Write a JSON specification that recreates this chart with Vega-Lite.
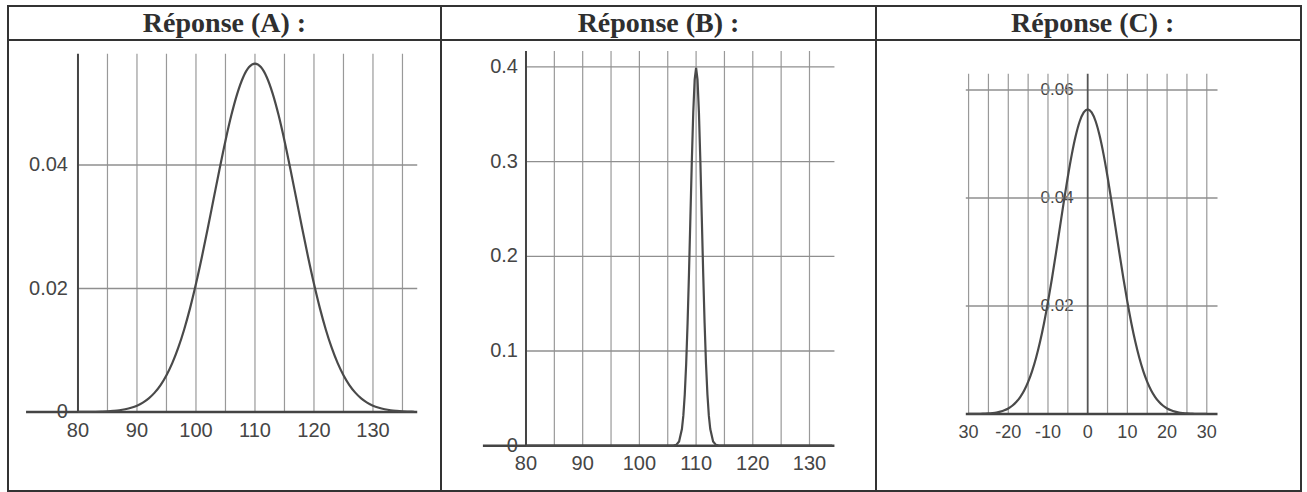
{
  "$schema": "https://vega.github.io/schema/vega-lite/v6.json",
  "padding": {"left": 7, "top": 5, "right": 7, "bottom": 2},
  "background": "white",
  "config": {
    "view": {"stroke": "#333333", "strokeWidth": 2},
    "concat": {"spacing": 0}
  },
  "datasets": {
    "titleA": [{"t": "Réponse (A) :"}],
    "titleB": [{"t": "Réponse (B) :"}],
    "titleC": [{"t": "Réponse (C) :"}],
    "one": [{}],
    "xlA": [{"v": 80}, {"v": 90}, {"v": 100}, {"v": 110}, {"v": 120}, {"v": 130}],
    "ylA": [{"h": 0}, {"h": 0.02}, {"h": 0.04}],
    "ylB": [{"h": 0}, {"h": 0.1}, {"h": 0.2}, {"h": 0.3}, {"h": 0.4}],
    "xlC": [{"v": -30, "t": "30"}, {"v": -20, "t": "-20"}, {"v": -10, "t": "-10"}, {"v": 0, "t": "0"}, {"v": 10, "t": "10"}, {"v": 20, "t": "20"}, {"v": 30, "t": "30"}],
    "ylC": [{"h": 0.02}, {"h": 0.04}, {"h": 0.06}],
    "vgA": [{"v": 85}, {"v": 90}, {"v": 95}, {"v": 100}, {"v": 105}, {"v": 110}, {"v": 115}, {"v": 120}, {"v": 125}, {"v": 130}, {"v": 135}],
    "hgA": [{"h": 0.02}, {"h": 0.04}],
    "vgB": [{"v": 85}, {"v": 90}, {"v": 95}, {"v": 100}, {"v": 105}, {"v": 110}, {"v": 115}, {"v": 120}, {"v": 125}, {"v": 130}],
    "hgB": [{"h": 0.1}, {"h": 0.2}, {"h": 0.3}, {"h": 0.4}],
    "vgC": [{"v": -30}, {"v": -25}, {"v": -20}, {"v": -15}, {"v": -10}, {"v": -5}, {"v": 5}, {"v": 10}, {"v": 15}, {"v": 20}, {"v": 25}, {"v": 30}],
    "hgC": [{"h": 0.02}, {"h": 0.04}, {"h": 0.06}],
    "curveA": [
      {"x": 80, "y": 0.00001}, {"x": 81, "y": 0.00001}, {"x": 82, "y": 0.00002}, {"x": 83, "y": 0.00004}, {"x": 84, "y": 0.00007},
      {"x": 85, "y": 0.00011}, {"x": 86, "y": 0.00018}, {"x": 87, "y": 0.00028}, {"x": 88, "y": 0.00045}, {"x": 89, "y": 0.00069},
      {"x": 90, "y": 0.00103}, {"x": 91, "y": 0.00153}, {"x": 92, "y": 0.00221}, {"x": 93, "y": 0.00314}, {"x": 94, "y": 0.00436},
      {"x": 95, "y": 0.00595}, {"x": 96, "y": 0.00795}, {"x": 97, "y": 0.01041}, {"x": 98, "y": 0.01337}, {"x": 99, "y": 0.01682},
      {"x": 100, "y": 0.02076}, {"x": 101, "y": 0.0251}, {"x": 102, "y": 0.02975}, {"x": 103, "y": 0.03456}, {"x": 104, "y": 0.03936},
      {"x": 105, "y": 0.04394}, {"x": 106, "y": 0.04808}, {"x": 107, "y": 0.05156}, {"x": 108, "y": 0.05421}, {"x": 109, "y": 0.05586},
      {"x": 110, "y": 0.05642},
      {"x": 111, "y": 0.05586}, {"x": 112, "y": 0.05421}, {"x": 113, "y": 0.05156}, {"x": 114, "y": 0.04808}, {"x": 115, "y": 0.04394},
      {"x": 116, "y": 0.03936}, {"x": 117, "y": 0.03456}, {"x": 118, "y": 0.02975}, {"x": 119, "y": 0.0251}, {"x": 120, "y": 0.02076},
      {"x": 121, "y": 0.01682}, {"x": 122, "y": 0.01337}, {"x": 123, "y": 0.01041}, {"x": 124, "y": 0.00795}, {"x": 125, "y": 0.00595},
      {"x": 126, "y": 0.00436}, {"x": 127, "y": 0.00314}, {"x": 128, "y": 0.00221}, {"x": 129, "y": 0.00153}, {"x": 130, "y": 0.00103},
      {"x": 131, "y": 0.00069}, {"x": 132, "y": 0.00045}, {"x": 133, "y": 0.00028}, {"x": 134, "y": 0.00018}, {"x": 135, "y": 0.00011},
      {"x": 136, "y": 0.00007}, {"x": 137, "y": 0.00004}
    ],
    "curveB": [
      {"x": 80, "y": 0}, {"x": 100, "y": 0}, {"x": 105, "y": 0}, {"x": 106, "y": 0.00013}, {"x": 106.5, "y": 0.00087},
      {"x": 107, "y": 0.00443}, {"x": 107.5, "y": 0.01753}, {"x": 107.75, "y": 0.03174}, {"x": 108, "y": 0.05399},
      {"x": 108.25, "y": 0.08628}, {"x": 108.5, "y": 0.12952}, {"x": 108.75, "y": 0.18265}, {"x": 109, "y": 0.24197},
      {"x": 109.25, "y": 0.30114}, {"x": 109.5, "y": 0.35207}, {"x": 109.75, "y": 0.38667}, {"x": 110, "y": 0.39894},
      {"x": 110.25, "y": 0.38667}, {"x": 110.5, "y": 0.35207}, {"x": 110.75, "y": 0.30114}, {"x": 111, "y": 0.24197},
      {"x": 111.25, "y": 0.18265}, {"x": 111.5, "y": 0.12952}, {"x": 111.75, "y": 0.08628}, {"x": 112, "y": 0.05399},
      {"x": 112.25, "y": 0.03174}, {"x": 112.5, "y": 0.01753}, {"x": 113, "y": 0.00443}, {"x": 113.5, "y": 0.00087},
      {"x": 114, "y": 0.00013}, {"x": 115, "y": 0}, {"x": 120, "y": 0}, {"x": 134, "y": 0}
    ],
    "curveC": [
      {"x": -30, "y": 0.00001}, {"x": -29, "y": 0.00001}, {"x": -28, "y": 0.00002}, {"x": -27, "y": 0.00004}, {"x": -26, "y": 0.00007},
      {"x": -25, "y": 0.00011}, {"x": -24, "y": 0.00018}, {"x": -23, "y": 0.00028}, {"x": -22, "y": 0.00045}, {"x": -21, "y": 0.00069},
      {"x": -20, "y": 0.00103}, {"x": -19, "y": 0.00153}, {"x": -18, "y": 0.00221}, {"x": -17, "y": 0.00314}, {"x": -16, "y": 0.00436},
      {"x": -15, "y": 0.00595}, {"x": -14, "y": 0.00795}, {"x": -13, "y": 0.01041}, {"x": -12, "y": 0.01337}, {"x": -11, "y": 0.01682},
      {"x": -10, "y": 0.02076}, {"x": -9, "y": 0.0251}, {"x": -8, "y": 0.02975}, {"x": -7, "y": 0.03456}, {"x": -6, "y": 0.03936},
      {"x": -5, "y": 0.04394}, {"x": -4, "y": 0.04808}, {"x": -3, "y": 0.05156}, {"x": -2, "y": 0.05421}, {"x": -1, "y": 0.05586},
      {"x": 0, "y": 0.05642},
      {"x": 1, "y": 0.05586}, {"x": 2, "y": 0.05421}, {"x": 3, "y": 0.05156}, {"x": 4, "y": 0.04808}, {"x": 5, "y": 0.04394},
      {"x": 6, "y": 0.03936}, {"x": 7, "y": 0.03456}, {"x": 8, "y": 0.02975}, {"x": 9, "y": 0.0251}, {"x": 10, "y": 0.02076},
      {"x": 11, "y": 0.01682}, {"x": 12, "y": 0.01337}, {"x": 13, "y": 0.01041}, {"x": 14, "y": 0.00795}, {"x": 15, "y": 0.00595},
      {"x": 16, "y": 0.00436}, {"x": 17, "y": 0.00314}, {"x": 18, "y": 0.00221}, {"x": 19, "y": 0.00153}, {"x": 20, "y": 0.00103},
      {"x": 21, "y": 0.00069}, {"x": 22, "y": 0.00045}, {"x": 23, "y": 0.00028}, {"x": 24, "y": 0.00018}, {"x": 25, "y": 0.00011},
      {"x": 26, "y": 0.00007}, {"x": 27, "y": 0.00004}, {"x": 28, "y": 0.00002}, {"x": 29, "y": 0.00001}, {"x": 30, "y": 0.00001}
    ]
  },
  "columns": 3,
  "spacing": 0,
  "bounds": "flush",
  "concat": [
    {"width": 433, "height": 34, "data": {"name": "titleA"},
     "mark": {"type": "text", "font": "Liberation Serif", "fontWeight": "bold", "fontSize": 28, "color": "#2f2f2f", "dy": 1},
     "encoding": {
       "x": {"datum": 0.5, "type": "quantitative", "scale": {"domain": [0, 1]}, "axis": null},
       "y": {"datum": 0.5, "type": "quantitative", "scale": {"domain": [0, 1]}, "axis": null},
       "text": {"field": "t"}}},
    {"width": 435, "height": 34, "data": {"name": "titleB"},
     "mark": {"type": "text", "font": "Liberation Serif", "fontWeight": "bold", "fontSize": 28, "color": "#2f2f2f", "dy": 1},
     "encoding": {
       "x": {"datum": 0.5, "type": "quantitative", "scale": {"domain": [0, 1]}, "axis": null},
       "y": {"datum": 0.5, "type": "quantitative", "scale": {"domain": [0, 1]}, "axis": null},
       "text": {"field": "t"}}},
    {"width": 425, "height": 34, "data": {"name": "titleC"},
     "mark": {"type": "text", "font": "Liberation Serif", "fontWeight": "bold", "fontSize": 28, "color": "#2f2f2f", "dy": 1},
     "encoding": {
       "x": {"datum": 0.51, "type": "quantitative", "scale": {"domain": [0, 1]}, "axis": null},
       "y": {"datum": 0.5, "type": "quantitative", "scale": {"domain": [0, 1]}, "axis": null},
       "text": {"field": "t"}}},
    {
      "width": 433, "height": 451,
      "layer": [
        {"data": {"name": "xlA"}, "mark": {"type": "text", "baseline": "top", "dy": 9, "fontSize": 20, "font": "Liberation Sans", "color": "#454545"},
         "encoding": {
           "x": {"field": "v", "type": "quantitative", "scale": {"domain": [68.14, 141.53], "nice": false, "zero": false}, "axis": null},
           "y": {"datum": 0, "type": "quantitative", "scale": {"domain": [-0.01279, 0.06024], "nice": false, "zero": false}, "axis": null},
           "text": {"field": "v", "type": "quantitative", "format": "d"}}},
        {"data": {"name": "ylA"}, "mark": {"type": "text", "align": "right", "dx": -10, "fontSize": 20, "font": "Liberation Sans", "color": "#454545"},
         "encoding": {
           "y": {"field": "h", "type": "quantitative", "scale": {"domain": [-0.01279, 0.06024], "nice": false, "zero": false}, "axis": null},
           "x": {"datum": 80, "type": "quantitative", "scale": {"domain": [68.14, 141.53], "nice": false, "zero": false}, "axis": null},
           "text": {"field": "h", "type": "quantitative", "format": "~g"}}},
        {"data": {"name": "vgA"}, "mark": {"type": "rule", "color": "#999999", "strokeWidth": 1.2},
         "encoding": {
           "x": {"field": "v", "type": "quantitative", "scale": {"domain": [68.14, 141.53], "nice": false, "zero": false}, "axis": null},
           "y": {"datum": 0, "type": "quantitative", "scale": {"domain": [-0.01279, 0.06024], "nice": false, "zero": false}, "axis": null},
           "y2": {"datum": 0.058}}},
        {"data": {"name": "hgA"}, "mark": {"type": "rule", "color": "#8f8f8f", "strokeWidth": 1.3},
         "encoding": {
           "y": {"field": "h", "type": "quantitative", "scale": {"domain": [-0.01279, 0.06024], "nice": false, "zero": false}, "axis": null},
           "x": {"datum": 80, "type": "quantitative", "scale": {"domain": [68.14, 141.53], "nice": false, "zero": false}, "axis": null},
           "x2": {"datum": 137.5}}},
        {"data": {"name": "one"}, "mark": {"type": "rule", "color": "#444444", "strokeWidth": 2},
         "encoding": {
           "x": {"datum": 80, "type": "quantitative", "scale": {"domain": [68.14, 141.53], "nice": false, "zero": false}, "axis": null},
           "y": {"datum": 0, "type": "quantitative", "scale": {"domain": [-0.01279, 0.06024], "nice": false, "zero": false}, "axis": null},
           "y2": {"datum": 0.058}}},
        {"data": {"name": "one"}, "mark": {"type": "rule", "color": "#444444", "strokeWidth": 2.5},
         "encoding": {
           "y": {"datum": 0, "type": "quantitative", "scale": {"domain": [-0.01279, 0.06024], "nice": false, "zero": false}, "axis": null},
           "x": {"datum": 71.2, "type": "quantitative", "scale": {"domain": [68.14, 141.53], "nice": false, "zero": false}, "axis": null},
           "x2": {"datum": 137.5}}},
        {"data": {"name": "curveA"}, "mark": {"type": "line", "color": "#4a4a4a", "strokeWidth": 2.2, "interpolate": "monotone"},
         "encoding": {
           "x": {"field": "x", "type": "quantitative", "scale": {"domain": [68.14, 141.53], "nice": false, "zero": false}, "axis": null},
           "y": {"field": "y", "type": "quantitative", "scale": {"domain": [-0.01279, 0.06024], "nice": false, "zero": false}, "axis": null}}}
      ]
    },
    {
      "width": 435, "height": 451,
      "layer": [
        {"data": {"name": "xlA"}, "mark": {"type": "text", "baseline": "top", "dy": 8, "fontSize": 20, "font": "Liberation Sans", "color": "#454545"},
         "encoding": {
           "x": {"field": "v", "type": "quantitative", "scale": {"domain": [65.01, 141.73], "nice": false, "zero": false}, "axis": null},
           "y": {"datum": 0, "type": "quantitative", "scale": {"domain": [-0.04784, 0.4284], "nice": false, "zero": false}, "axis": null},
           "text": {"field": "v", "type": "quantitative", "format": "d"}}},
        {"data": {"name": "ylB"}, "mark": {"type": "text", "align": "right", "dx": -8, "fontSize": 20, "font": "Liberation Sans", "color": "#454545"},
         "encoding": {
           "y": {"field": "h", "type": "quantitative", "scale": {"domain": [-0.04784, 0.4284], "nice": false, "zero": false}, "axis": null},
           "x": {"datum": 80, "type": "quantitative", "scale": {"domain": [65.01, 141.73], "nice": false, "zero": false}, "axis": null},
           "text": {"field": "h", "type": "quantitative", "format": "~g"}}},
        {"data": {"name": "vgB"}, "mark": {"type": "rule", "color": "#999999", "strokeWidth": 1.2},
         "encoding": {
           "x": {"field": "v", "type": "quantitative", "scale": {"domain": [65.01, 141.73], "nice": false, "zero": false}, "axis": null},
           "y": {"datum": 0, "type": "quantitative", "scale": {"domain": [-0.04784, 0.4284], "nice": false, "zero": false}, "axis": null},
           "y2": {"datum": 0.4168}}},
        {"data": {"name": "hgB"}, "mark": {"type": "rule", "color": "#8f8f8f", "strokeWidth": 1.3},
         "encoding": {
           "y": {"field": "h", "type": "quantitative", "scale": {"domain": [-0.04784, 0.4284], "nice": false, "zero": false}, "axis": null},
           "x": {"datum": 80, "type": "quantitative", "scale": {"domain": [65.01, 141.73], "nice": false, "zero": false}, "axis": null},
           "x2": {"datum": 134.4}}},
        {"data": {"name": "one"}, "mark": {"type": "rule", "color": "#444444", "strokeWidth": 2},
         "encoding": {
           "x": {"datum": 80, "type": "quantitative", "scale": {"domain": [65.01, 141.73], "nice": false, "zero": false}, "axis": null},
           "y": {"datum": 0, "type": "quantitative", "scale": {"domain": [-0.04784, 0.4284], "nice": false, "zero": false}, "axis": null},
           "y2": {"datum": 0.4168}}},
        {"data": {"name": "one"}, "mark": {"type": "rule", "color": "#444444", "strokeWidth": 2.5},
         "encoding": {
           "y": {"datum": 0, "type": "quantitative", "scale": {"domain": [-0.04784, 0.4284], "nice": false, "zero": false}, "axis": null},
           "x": {"datum": 72.4, "type": "quantitative", "scale": {"domain": [65.01, 141.73], "nice": false, "zero": false}, "axis": null},
           "x2": {"datum": 134.4}}},
        {"data": {"name": "curveB"}, "mark": {"type": "line", "color": "#4a4a4a", "strokeWidth": 2.2},
         "encoding": {
           "x": {"field": "x", "type": "quantitative", "scale": {"domain": [65.01, 141.73], "nice": false, "zero": false}, "axis": null},
           "y": {"field": "y", "type": "quantitative", "scale": {"domain": [-0.04784, 0.4284], "nice": false, "zero": false}, "axis": null}}}
      ]
    },
    {
      "width": 425, "height": 451,
      "layer": [
        {"data": {"name": "xlC"}, "mark": {"type": "text", "baseline": "top", "dy": 10, "fontSize": 18, "font": "Liberation Sans", "color": "#454545"},
         "encoding": {
           "x": {"field": "v", "type": "quantitative", "scale": {"domain": [-53.32, 53.73], "nice": false, "zero": false}, "axis": null},
           "y": {"datum": 0, "type": "quantitative", "scale": {"domain": [-0.01426, 0.06926], "nice": false, "zero": false}, "axis": null},
           "text": {"field": "t"}}},
        {"data": {"name": "ylC"}, "mark": {"type": "text", "align": "right", "dx": -14, "fontSize": 17, "font": "Liberation Sans", "color": "#454545"},
         "encoding": {
           "y": {"field": "h", "type": "quantitative", "scale": {"domain": [-0.01426, 0.06926], "nice": false, "zero": false}, "axis": null},
           "x": {"datum": 0, "type": "quantitative", "scale": {"domain": [-53.32, 53.73], "nice": false, "zero": false}, "axis": null},
           "text": {"field": "h", "type": "quantitative", "format": "~g"}}},
        {"data": {"name": "vgC"}, "mark": {"type": "rule", "color": "#999999", "strokeWidth": 1.2},
         "encoding": {
           "x": {"field": "v", "type": "quantitative", "scale": {"domain": [-53.32, 53.73], "nice": false, "zero": false}, "axis": null},
           "y": {"datum": 0, "type": "quantitative", "scale": {"domain": [-0.01426, 0.06926], "nice": false, "zero": false}, "axis": null},
           "y2": {"datum": 0.063}}},
        {"data": {"name": "hgC"}, "mark": {"type": "rule", "color": "#8f8f8f", "strokeWidth": 1.3},
         "encoding": {
           "y": {"field": "h", "type": "quantitative", "scale": {"domain": [-0.01426, 0.06926], "nice": false, "zero": false}, "axis": null},
           "x": {"datum": -30.7, "type": "quantitative", "scale": {"domain": [-53.32, 53.73], "nice": false, "zero": false}, "axis": null},
           "x2": {"datum": 32.7}}},
        {"data": {"name": "one"}, "mark": {"type": "rule", "color": "#555555", "strokeWidth": 1.8},
         "encoding": {
           "x": {"datum": 0, "type": "quantitative", "scale": {"domain": [-53.32, 53.73], "nice": false, "zero": false}, "axis": null},
           "y": {"datum": 0, "type": "quantitative", "scale": {"domain": [-0.01426, 0.06926], "nice": false, "zero": false}, "axis": null},
           "y2": {"datum": 0.063}}},
        {"data": {"name": "one"}, "mark": {"type": "rule", "color": "#444444", "strokeWidth": 2.5},
         "encoding": {
           "y": {"datum": 0, "type": "quantitative", "scale": {"domain": [-0.01426, 0.06926], "nice": false, "zero": false}, "axis": null},
           "x": {"datum": -30.7, "type": "quantitative", "scale": {"domain": [-53.32, 53.73], "nice": false, "zero": false}, "axis": null},
           "x2": {"datum": 32.7}}},
        {"data": {"name": "curveC"}, "mark": {"type": "line", "color": "#4a4a4a", "strokeWidth": 2.2, "interpolate": "monotone"},
         "encoding": {
           "x": {"field": "x", "type": "quantitative", "scale": {"domain": [-53.32, 53.73], "nice": false, "zero": false}, "axis": null},
           "y": {"field": "y", "type": "quantitative", "scale": {"domain": [-0.01426, 0.06926], "nice": false, "zero": false}, "axis": null}}}
      ]
    }
  ]
}
